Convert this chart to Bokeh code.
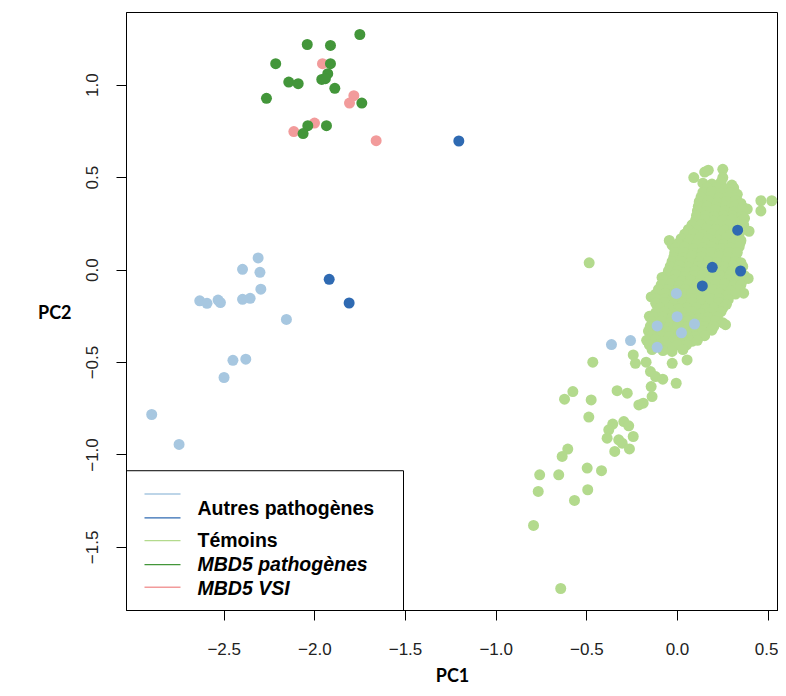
from bokeh.plotting import figure
from bokeh.models import Range1d, FixedTicker
from bokeh.core.properties import value
from bokeh.embed import file_html
from bokeh.resources import INLINE

# ---------------- data ----------------
pc1_ticks = [-2.5, -2.0, -1.5, -1.0, -0.5, 0.0, 0.5]
pc1_tick_labels = ["\u22122.5", "\u22122.0", "\u22121.5", "\u22121.0", "\u22120.5", "0.0", "0.5"]
pc2_ticks = [-1.5, -1.0, -0.5, 0.0, 0.5, 1.0]
pc2_tick_labels = ["\u22121.5", "\u22121.0", "\u22120.5", "0.0", "0.5", "1.0"]

legend_texts_plain = ["Autres pathogènes", "Témoins"]
legend_texts_italic = ["MBD5 pathogènes", "MBD5 VSI"]

# (PC1, PC2) per group
autres_clair = [
    (-2.313, 0.066), (-2.399, 0.004), (-2.303, -0.012), (-2.298, -0.103),
    (-2.635, -0.166), (-2.595, -0.180), (-2.534, -0.162), (-2.521, -0.176),
    (-2.399, -0.158), (-2.357, -0.153), (-2.157, -0.267), (-2.452, -0.488),
    (-2.381, -0.482), (-2.501, -0.581), (-2.900, -0.781), (-2.749, -0.943),
    (-0.364, -0.403), (-0.259, -0.381), (-0.112, -0.302), (-0.112, -0.418),
    (-0.002, -0.252), (0.094, -0.292), (0.022, -0.339), (-0.006, -0.126),
]
autres_fonce = [
    (-1.206, 0.698), (-1.921, -0.050), (-1.811, -0.178),
    (0.332, 0.216), (0.192, 0.015), (0.348, -0.005), (0.137, -0.086),
]
mbd5_pathogenes = [
    (-1.752, 1.274), (-2.042, 1.220), (-1.914, 1.215), (-2.216, 1.116),
    (-1.914, 1.116), (-1.929, 1.062), (-1.962, 1.031), (-1.942, 1.035),
    (-2.144, 1.017), (-2.092, 1.008), (-1.890, 0.983), (-2.267, 0.929),
    (-1.741, 0.903), (-2.039, 0.781), (-1.936, 0.781), (-2.065, 0.738),
]
mbd5_vsi = [
    (-1.958, 1.116), (-1.785, 0.943), (-1.809, 0.903), (-2.002, 0.795),
    (-2.116, 0.749), (-1.662, 0.700),
]
temoins = [
    (0.17, 0.54), (0.25, 0.545), (0.15, 0.53), (0.09, 0.50), (0.25, 0.50),
    (0.14, 0.47), (0.19, 0.465), (0.24, 0.475), (0.30, 0.46),
    (0.165, 0.445), (0.215, 0.445), (0.265, 0.44), (0.31, 0.445),
    (0.14, 0.42), (0.19, 0.425), (0.24, 0.415), (0.29, 0.42), (0.33, 0.41),
    (0.13, 0.395), (0.18, 0.395), (0.23, 0.39), (0.28, 0.395), (0.325, 0.39),
    (0.12, 0.37), (0.17, 0.375), (0.22, 0.365), (0.27, 0.37), (0.32, 0.375), (0.35, 0.36), (0.46, 0.375), (0.52, 0.375),
    (0.115, 0.345), (0.165, 0.345), (0.215, 0.34), (0.265, 0.345), (0.315, 0.345), (0.36, 0.34), (0.385, 0.33),
    (0.11, 0.32), (0.16, 0.315), (0.21, 0.325), (0.26, 0.32), (0.31, 0.315), (0.36, 0.325), (0.46, 0.32),
    (0.105, 0.295), (0.155, 0.295), (0.205, 0.29), (0.255, 0.295), (0.305, 0.295), (0.355, 0.29),
    (0.10, 0.27), (0.15, 0.275), (0.20, 0.265), (0.25, 0.27), (0.30, 0.275), (0.35, 0.265), (0.37, 0.28),
    (0.08, 0.245), (0.13, 0.245), (0.18, 0.24), (0.23, 0.245), (0.28, 0.245), (0.33, 0.24), (0.365, 0.245),
    (0.06, 0.22), (0.11, 0.215), (0.16, 0.225), (0.21, 0.22), (0.26, 0.215), (0.31, 0.225), (0.36, 0.22), (0.395, 0.21),
    (0.04, 0.195), (0.09, 0.195), (0.14, 0.19), (0.19, 0.195), (0.24, 0.195), (0.29, 0.19), (0.34, 0.195),
    (0.02, 0.17), (0.07, 0.165), (0.12, 0.175), (0.17, 0.17), (0.22, 0.165), (0.27, 0.175), (0.32, 0.17), (0.35, 0.16),
    (-0.045, 0.16), (-0.03, 0.135),
    (0.005, 0.145), (0.055, 0.145), (0.105, 0.14), (0.155, 0.145), (0.205, 0.145), (0.255, 0.14), (0.305, 0.145), (0.345, 0.145),
    (-0.01, 0.12), (0.04, 0.125), (0.09, 0.115), (0.14, 0.12), (0.19, 0.125), (0.24, 0.115), (0.29, 0.12), (0.34, 0.125),
    (-0.015, 0.095), (0.035, 0.095), (0.085, 0.09), (0.135, 0.095), (0.185, 0.095), (0.235, 0.09), (0.285, 0.095), (0.33, 0.095),
    (-0.02, 0.07), (0.03, 0.065), (0.08, 0.075), (0.13, 0.07), (0.18, 0.065), (0.23, 0.075), (0.28, 0.07), (0.32, 0.065),
    (-0.03, 0.045), (0.02, 0.045), (0.07, 0.04), (0.12, 0.045), (0.17, 0.045), (0.22, 0.04), (0.27, 0.045), (0.32, 0.045), (0.35, 0.04),
    (-0.04, 0.02), (0.01, 0.025), (0.06, 0.015), (0.11, 0.02), (0.16, 0.025), (0.21, 0.015), (0.26, 0.02), (0.31, 0.025), (0.36, 0.02),
    (-0.05, -0.005), (0.0, -0.005), (0.05, -0.01), (0.10, -0.005), (0.15, -0.005), (0.20, -0.01), (0.25, -0.005), (0.30, -0.005), (0.35, -0.01),
    (-0.06, -0.03), (-0.01, -0.025), (0.04, -0.035), (0.09, -0.03), (0.14, -0.025), (0.19, -0.035), (0.24, -0.03), (0.29, -0.025), (0.34, -0.035), (0.37, -0.03),
    (-0.085, -0.04), (0.39, -0.045),
    (-0.075, -0.055), (-0.025, -0.055), (0.025, -0.06), (0.075, -0.055), (0.125, -0.055), (0.175, -0.06), (0.225, -0.055), (0.275, -0.055), (0.325, -0.06), (0.36, -0.055),
    (-0.09, -0.08), (-0.04, -0.075), (0.01, -0.085), (0.06, -0.08), (0.11, -0.075), (0.16, -0.085), (0.21, -0.08), (0.26, -0.075), (0.31, -0.085), (0.35, -0.08),
    (-0.105, -0.105), (-0.055, -0.105), (-0.005, -0.11), (0.045, -0.105), (0.095, -0.105), (0.145, -0.11), (0.195, -0.105), (0.245, -0.105), (0.295, -0.11), (0.335, -0.105),
    (0.365, -0.125),
    (-0.12, -0.13), (-0.07, -0.125), (-0.02, -0.135), (0.03, -0.13), (0.08, -0.125), (0.13, -0.135), (0.18, -0.13), (0.23, -0.125), (0.28, -0.135), (0.32, -0.13),
    (-0.145, -0.145),
    (-0.12, -0.155), (-0.07, -0.155), (-0.02, -0.16), (0.03, -0.155), (0.08, -0.155), (0.13, -0.16), (0.18, -0.155), (0.23, -0.155), (0.28, -0.16),
    (-0.12, -0.18), (-0.07, -0.175), (-0.02, -0.185), (0.03, -0.18), (0.08, -0.175), (0.13, -0.185), (0.18, -0.18), (0.23, -0.175), (0.27, -0.185),
    (-0.095, -0.205), (-0.045, -0.205), (0.005, -0.21), (0.055, -0.205), (0.105, -0.205), (0.155, -0.21), (0.205, -0.205), (0.25, -0.205),
    (-0.12, -0.23), (-0.07, -0.225), (-0.02, -0.235), (0.03, -0.23), (0.08, -0.225), (0.13, -0.235), (0.18, -0.23), (0.24, -0.225),
    (-0.155, -0.25),
    (-0.13, -0.255), (-0.08, -0.255), (-0.03, -0.26), (0.02, -0.255), (0.07, -0.255), (0.12, -0.26), (0.17, -0.255), (0.22, -0.255),
    (-0.14, -0.28), (-0.09, -0.275), (-0.04, -0.285), (0.01, -0.28), (0.06, -0.275), (0.11, -0.285), (0.16, -0.28), (0.21, -0.275), (0.25, -0.285),
    (0.265, -0.295),
    (-0.15, -0.305), (-0.10, -0.305), (-0.05, -0.31), (0.0, -0.305), (0.05, -0.305), (0.10, -0.31), (0.15, -0.305), (0.20, -0.305),
    (-0.16, -0.33), (-0.11, -0.325), (-0.06, -0.335), (-0.01, -0.33), (0.04, -0.325), (0.09, -0.335), (0.14, -0.33), (0.19, -0.325),
    (-0.145, -0.355), (-0.095, -0.355), (-0.045, -0.36), (0.005, -0.355), (0.055, -0.355), (0.10, -0.36), (0.15, -0.355),
    (-0.17, -0.38), (-0.12, -0.375), (-0.07, -0.385), (-0.02, -0.38), (0.03, -0.375), (0.08, -0.385), (0.11, -0.38),
    (-0.155, -0.405), (-0.105, -0.405), (-0.055, -0.41), (0.0, -0.405), (0.05, -0.405),
    (-0.14, -0.43), (-0.08, -0.435), (-0.03, -0.44), (0.03, -0.43),
    (-0.467, -0.498), (-0.244, -0.459), (-0.232, -0.504), (-0.173, -0.498),
    (-0.149, -0.549), (-0.121, -0.576), (-0.081, -0.590), (-0.007, -0.612),
    (-0.029, -0.504), (0.053, -0.486), (-0.145, -0.630), (-0.140, -0.684),
    (-0.213, -0.729), (-0.189, -0.720), (-0.333, -0.652), (-0.277, -0.666),
    (-0.577, -0.657), (-0.623, -0.698), (-0.476, -0.702), (-0.489, -0.795),
    (-0.357, -0.833), (-0.296, -0.819), (-0.269, -0.842), (-0.379, -0.864),
    (-0.388, -0.909), (-0.324, -0.918), (-0.244, -0.900), (-0.305, -0.936),
    (-0.346, -0.981), (-0.265, -0.967), (-0.605, -0.968), (-0.636, -1.008),
    (-0.760, -1.107), (-0.655, -1.107), (-0.498, -1.071), (-0.419, -1.085),
    (-0.768, -1.197), (-0.495, -1.188), (-0.568, -1.246), (-0.794, -1.381),
    (-0.644, -1.722), (-0.487, 0.039),
]

# ---------------- styles / layout ----------------
COL_AUTRES_CLAIR = "#a7c7e0"
COL_AUTRES_FONCE = "#2f6ab2"
COL_TEMOINS = "#b3da8d"
COL_MBD5_PATH = "#43963a"
COL_MBD5_VSI = "#f29b9b"

W, H = 778, 688
FRAME_L, FRAME_R, FRAME_T, FRAME_B = 126, 778, 12, 611
PX_PER_X, PX_PER_Y = 181.3, 185.2
X0 = -3.039
X1 = X0 + (FRAME_R - FRAME_L) / PX_PER_X
Y0, Y1 = -1.841, 1.393


def dx(px):
    return X0 + (px - FRAME_L) * (X1 - X0) / (FRAME_R - FRAME_L)


def dy(py):
    return Y1 - (py - FRAME_T) * (Y1 - Y0) / (FRAME_B - FRAME_T)


p = figure(width=W, height=H, x_range=Range1d(X0, X1), y_range=Range1d(Y0, Y1),
           output_backend="svg", toolbar_location=None,
           min_border_left=FRAME_L, min_border_right=W - FRAME_R,
           min_border_top=FRAME_T, min_border_bottom=H - FRAME_B)
p.background_fill_color = "white"
p.border_fill_color = "white"
p.outline_line_color = "black"
p.outline_line_width = 1
p.grid.grid_line_color = None

TICK_FONT = "Liberation Sans"
LABEL_FONT = "Lato"

p.xaxis.ticker = FixedTicker(ticks=pc1_ticks)
p.xaxis.major_label_overrides = dict(zip(pc1_ticks, pc1_tick_labels))
p.yaxis.ticker = FixedTicker(ticks=pc2_ticks)
p.yaxis.major_label_overrides = dict(zip(pc2_ticks, pc2_tick_labels))
p.yaxis.major_label_orientation = "vertical"

for ax in (p.xaxis, p.yaxis):
    ax.axis_line_color = "black"
    ax.major_tick_line_color = "black"
    ax.major_tick_out = 10
    ax.major_tick_in = 0
    ax.minor_tick_line_color = None
    ax.major_label_text_font = TICK_FONT
    ax.major_label_text_font_size = "17px"
    ax.major_label_text_color = "#222222"
    ax.axis_label_text_font = LABEL_FONT
    ax.axis_label_text_font_style = "bold"
    ax.axis_label_text_font_size = "18px"
    ax.axis_label_text_color = "black"

p.xaxis.axis_label = "PC1"
p.xaxis.major_label_standoff = 22
p.xaxis.axis_label_standoff = 6
p.yaxis.axis_label = "PC2"
p.yaxis.axis_label_orientation = "horizontal"
p.yaxis.major_label_standoff = 18
p.yaxis.axis_label_standoff = 12


def xs(pts):
    return [a for a, b in pts]


def ys(pts):
    return [b for a, b in pts]


MS = 11
p.scatter(xs(temoins), ys(temoins), size=MS, color=COL_TEMOINS, line_color=None)
p.scatter(xs(autres_clair), ys(autres_clair), size=MS, color=COL_AUTRES_CLAIR, line_color=None)
p.scatter(xs(autres_fonce), ys(autres_fonce), size=MS, color=COL_AUTRES_FONCE, line_color=None)
p.scatter(xs(mbd5_vsi), ys(mbd5_vsi), size=MS, color=COL_MBD5_VSI, line_color=None)
p.scatter(xs(mbd5_pathogenes), ys(mbd5_pathogenes), size=MS, color=COL_MBD5_PATH, line_color=None)

# ---------------- legend (drawn by hand) ----------------
p.quad(left=[X0], right=[dx(403)], top=[dy(471)], bottom=[Y0],
       fill_color="white", line_color="black", line_width=1)
leg_colors = [COL_AUTRES_CLAIR, COL_AUTRES_FONCE, COL_TEMOINS, COL_MBD5_PATH, COL_MBD5_VSI]
leg_line_y = [dy(v) for v in (494.3, 518.3, 541.0, 565.0, 587.7)]
p.segment(x0=[dx(144)] * 5, x1=[dx(180)] * 5, y0=leg_line_y, y1=leg_line_y,
          line_color=leg_colors, line_width=1.3)
p.text(x=[dx(197)] * 2, y=[dy(508), dy(540)], text=legend_texts_plain,
       text_font=value(TICK_FONT), text_font_style="bold", text_font_size="19.5px",
       text_baseline="middle", text_align="left", text_color="black")
p.text(x=[dx(197)] * 2, y=[dy(564.5), dy(588.5)], text=legend_texts_italic,
       text_font=value(TICK_FONT), text_font_style="bold italic", text_font_size="19.5px",
       text_baseline="middle", text_align="left", text_color="black")

open("out.html", "w").write(file_html(p, INLINE))
